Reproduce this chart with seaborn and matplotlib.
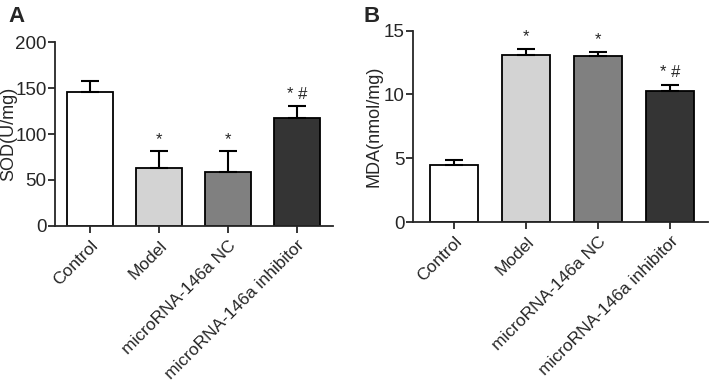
import numpy as np
import pandas as pd
import matplotlib
matplotlib.use('Agg')
import matplotlib.pyplot as plt
import seaborn as sns

groups = ['Control', 'Model', 'microRNA-146a NC', 'microRNA-146a inhibitor']
colors = ['#ffffff', '#d3d3d3', '#808080', '#343434']

sod_mean = [145.5, 63, 58.5, 117]
sod_err = [12.5, 18.5, 22.5, 13.5]
sod_marks = ['', '*', '*', '* #']

mda_mean = [4.5, 13.1, 13.0, 10.27]
mda_err = [0.4, 0.5, 0.36, 0.5]
mda_marks = ['', '*', '*', '* #']

sns.set_style('ticks')
plt.rcParams['font.family'] = ['Liberation Sans', 'DejaVu Sans']

fig = plt.figure(figsize=(7.09, 3.82), dpi=100)
axA = fig.add_axes([0.0776, 0.4084, 0.392, 0.4816])
axB = fig.add_axes([0.5825, 0.4188, 0.4165, 0.5008])


def panel(ax, mean, err, marks, ylabel, ymax, yticks, xlim, labelx):
    df = pd.DataFrame({'group': groups, 'value': mean})
    sns.barplot(data=df, x='group', y='value', hue='group', palette=colors,
                legend=False, width=0.67, edgecolor='black', linewidth=1.3,
                ax=ax)
    x = np.arange(len(groups))
    ax.errorbar(x, mean, yerr=[np.zeros(len(err)), err], fmt='none',
                ecolor='black', elinewidth=1.5, capsize=6.8, capthick=1.5)
    for xi, m, e, s in zip(x, mean, err, marks):
        if s:
            ax.annotate(s, (xi, m + e), xytext=(0, 3), textcoords='offset points',
                        ha='center', va='bottom', fontsize=12)
    ax.set_ylim(0, ymax)
    ax.set_yticks(yticks)
    ax.set_xlim(*xlim)
    ax.set_xlabel('')
    ax.set_ylabel(ylabel, fontsize=13)
    ax.yaxis.set_label_coords(labelx, 0.5)
    ax.tick_params(axis='y', labelsize=13.5, width=1.3, length=5, pad=1)
    ax.tick_params(axis='x', labelsize=12.5, width=1.3, length=5)
    ax.set_xticks(x)
    ax.set_xticklabels(groups, rotation=45, ha='right', rotation_mode='anchor')
    for side in ['left', 'bottom']:
        ax.spines[side].set_linewidth(1.3)
    sns.despine(ax=ax)


panel(axA, sod_mean, sod_err, sod_marks, 'SOD(U/mg)', 200, [0, 50, 100, 150, 200], (-0.51, 3.52), -0.135)
panel(axB, mda_mean, mda_err, mda_marks, 'MDA(nmol/mg)', 15, [0, 5, 10, 15], (-0.57, 3.53), -0.103)

fig.text(0.012, 0.985, 'A', fontsize=16, fontweight='bold', va='top')
fig.text(0.512, 0.985, 'B', fontsize=16, fontweight='bold', va='top')

fig.savefig('out.png', dpi=100)
